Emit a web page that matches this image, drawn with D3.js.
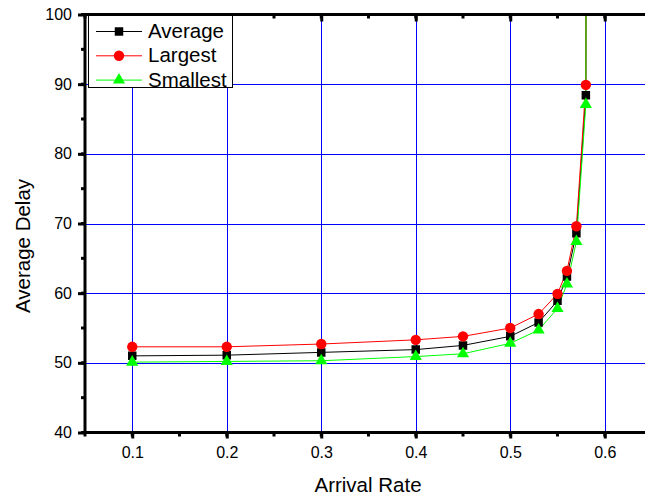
<!DOCTYPE html>
<html>
<head>
<meta charset="utf-8">
<script src="https://cdn.jsdelivr.net/npm/d3@7"></script>
<style>
  body { margin: 0; background: #fff; }
  svg { display: block; font-family: Arial, "Liberation Sans", sans-serif; }
</style>
</head>
<body>
<svg id="chart" width="645" height="499"></svg>
<script>
// values
const arrivalRate = [0.1, 0.2, 0.3, 0.4, 0.45, 0.5, 0.53, 0.55, 0.56, 0.57, 0.58, 0.59];
const averageDelay = [51.0, 51.1, 51.5, 51.9, 52.5, 53.8, 55.8, 58.9, 62.4, 68.6, 88.4, 1000];
const largestDelay = [52.3, 52.3, 52.7, 53.3, 53.8, 55.0, 57.0, 59.9, 63.2, 69.6, 89.9, 1000];
const smallestDelay = [50.1, 50.2, 50.3, 50.9, 51.3, 52.8, 54.7, 57.8, 61.3, 67.4, 87.1, 1000];
const xTicks = [0.1, 0.2, 0.3, 0.4, 0.5, 0.6];
const yTicks = [40, 50, 60, 70, 80, 90, 100];

const series = [
  {name: "Average", values: averageDelay, color: "#000000", symbol: d3.symbolSquare},
  {name: "Largest", values: largestDelay, color: "#ff0000", symbol: d3.symbolCircle},
  {name: "Smallest", values: smallestDelay, color: "#00ff00", symbol: d3.symbolTriangle}
];

const plotLeft = 85, plotRight = 652, plotTop = 14.5, plotBottom = 432.5;
const svg = d3.select("#chart");

const x = d3.scaleLinear().domain([0.05, 0.65]).range([plotLeft, plotRight]);
const y = d3.scaleLinear().domain([40, 100]).range([plotBottom, plotTop]);

svg.append("clipPath").attr("id", "plot-clip")
  .append("rect").attr("x", plotLeft).attr("y", plotTop)
  .attr("width", plotRight - plotLeft).attr("height", plotBottom - plotTop);

// grid
const grid = svg.append("g").attr("stroke", "#0000ff").attr("stroke-width", 1);
grid.selectAll(".vg").data(xTicks).join("line")
  .attr("x1", d => Math.round(x(d)) + 0.5).attr("x2", d => Math.round(x(d)) + 0.5)
  .attr("y1", plotTop).attr("y2", plotBottom);
grid.selectAll(".hg").data(yTicks.slice(1, -1)).join("line")
  .attr("y1", d => Math.round(y(d)) + 0.5).attr("y2", d => Math.round(y(d)) + 0.5)
  .attr("x1", plotLeft).attr("x2", plotRight);

// lines and markers
const plot = svg.append("g").attr("clip-path", "url(#plot-clip)");
const line = d3.line().x((d, i) => x(arrivalRate[i])).y(d => y(d));
const symbolSize = {Average: 72, Largest: 85, Smallest: 64};

series.forEach(s => {
  plot.append("path").datum(s.values)
    .attr("fill", "none").attr("stroke", s.color).attr("stroke-width", 1)
    .attr("d", line);
});
series.forEach(s => {
  plot.append("g").selectAll("path").data(s.values).join("path")
    .attr("transform", (d, i) => `translate(${x(arrivalRate[i])},${y(d)})`)
    .attr("fill", s.color)
    .attr("d", d3.symbol().type(s.symbol).size(symbolSize[s.name]));
});

// axes
const xMinor = d3.range(0.05, 0.651, 0.05);
const yMinor = d3.range(40, 100.1, 5);

const xAxis = d3.axisBottom(x).tickValues(xTicks).tickFormat(d3.format(".1f")).tickSize(6).tickPadding(8);
const gx = svg.append("g").attr("transform", `translate(0,${plotBottom})`).call(xAxis);
gx.append("g").selectAll("line").data(xMinor).join("line")
  .attr("x1", d => x(d)).attr("x2", d => x(d)).attr("y1", 0).attr("y2", 4)
  .attr("stroke", "#000").attr("stroke-width", 3);

const yAxis = d3.axisLeft(y).tickValues(yTicks).tickSize(7).tickPadding(6);
const gy = svg.append("g").attr("transform", `translate(${plotLeft},0)`).call(yAxis);
gy.append("g").selectAll("line").data(yMinor).join("line")
  .attr("y1", d => y(d)).attr("y2", d => y(d)).attr("x1", 0).attr("x2", -4)
  .attr("stroke", "#000").attr("stroke-width", 3);

// top axis: ticks pointing inward
const topAxis = d3.axisTop(x).tickValues(xTicks).tickSize(-7).tickFormat("");
const gt = svg.append("g").attr("transform", `translate(0,${plotTop})`).call(topAxis);
gt.append("g").selectAll("line").data(xMinor).join("line")
  .attr("x1", d => x(d)).attr("x2", d => x(d)).attr("y1", 0).attr("y2", 4)
  .attr("stroke", "#000").attr("stroke-width", 3);

[gx, gy, gt].forEach(g => {
  g.select(".domain").attr("stroke-width", 3).attr("stroke", "#000");
  g.selectAll(".tick line").attr("stroke-width", 3);
  g.selectAll(".tick text").attr("font-size", 16).attr("fill", "#000")
    .attr("font-family", "Arial, 'Liberation Sans', sans-serif");
});
gx.select(".domain").attr("d", `M${plotLeft},0H${plotRight}`);
gt.select(".domain").attr("d", `M${plotLeft},0H${plotRight}`);
gy.select(".domain").attr("d", `M0,${plotBottom}V${plotTop}`);

// axis titles
svg.append("text").attr("x", 368).attr("y", 492).attr("text-anchor", "middle")
  .attr("font-size", 20.5).text("Arrival Rate");
svg.append("text").attr("transform", "translate(30,246) rotate(-90)").attr("text-anchor", "middle")
  .attr("font-size", 20.5).text("Average Delay");

// legend
const legend = svg.append("g");
legend.append("rect").attr("x", 88.5).attr("y", 15.5).attr("width", 144).attr("height", 72)
  .attr("fill", "#fff").attr("stroke", "#000").attr("stroke-width", 1);
series.forEach((s, i) => {
  const ly = 31.5 + i * 24.3;
  legend.append("line").attr("x1", 96).attr("x2", 142).attr("y1", ly).attr("y2", ly)
    .attr("stroke", s.color).attr("stroke-width", 1);
  legend.append("path").attr("transform", `translate(119,${ly})`).attr("fill", s.color)
    .attr("d", d3.symbol().type(s.symbol).size(symbolSize[s.name]));
  legend.append("text").attr("x", 148).attr("y", ly + 6.5).attr("font-size", 20.5).text(s.name);
});
</script>
</body>
</html>
